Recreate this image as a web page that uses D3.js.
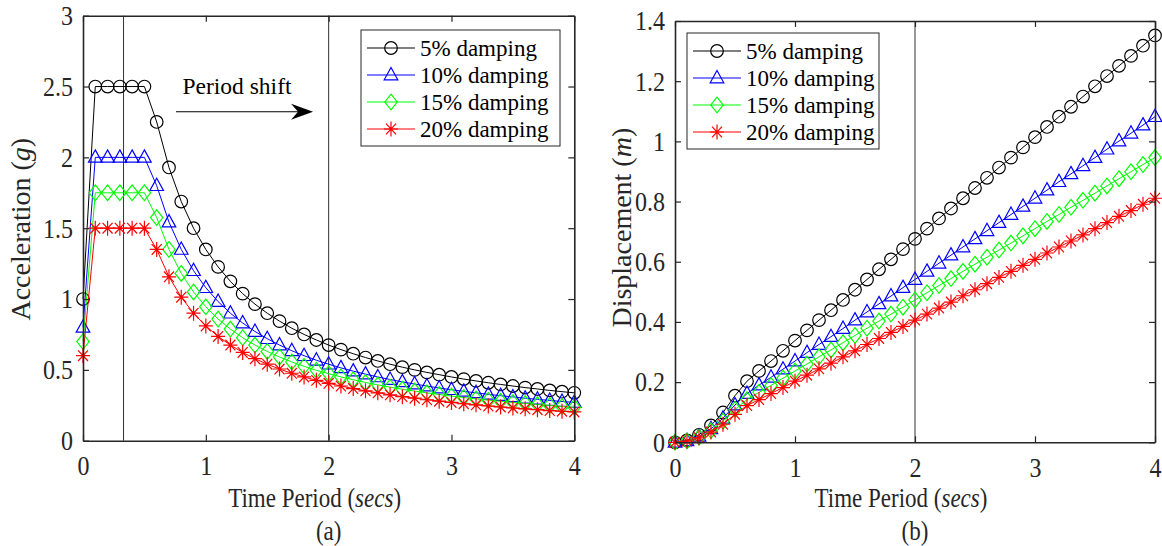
<!DOCTYPE html>
<html>
<head>
<meta charset="utf-8">
<script src="https://cdn.jsdelivr.net/npm/d3@7/dist/d3.min.js"></script>
<style>
  body { margin: 0; background: #fff; }
  svg { display: block; font-family: "Liberation Serif", "Times New Roman", serif; }
  .axis path, .axis line { stroke: #262626; }
  .axis text { fill: #262626; font-size: 24px; font-family: "Liberation Serif", serif; }
</style>
</head>
<body>
<svg id="chart" width="1162" height="546"></svg>
<script>
// time periods (s)
var periods = [0,0.1,0.2,0.3,0.4,0.5,0.6,0.7,0.8,0.9,1.0,1.1,1.2,1.3,1.4,1.5,1.6,1.7,1.8,1.9,2.0,
               2.1,2.2,2.3,2.4,2.5,2.6,2.7,2.8,2.9,3.0,3.1,3.2,3.3,3.4,3.5,3.6,3.7,3.8,3.9,4.0];

var seriesNames = ["5% damping", "10% damping", "15% damping", "20% damping"];

// spectral acceleration (g)
var acc5  = [1.0,2.5,2.5,2.5,2.5,2.5,2.25,1.929,1.688,1.5,1.35,1.227,1.125,1.038,0.964,0.9,0.844,0.794,0.75,0.711,0.675,
             0.643,0.614,0.587,0.563,0.54,0.519,0.5,0.482,0.466,0.45,0.435,0.422,0.409,0.397,0.386,0.375,0.365,0.355,0.346,0.338];
var acc10 = [0.8,2,2,2,2,2,1.8,1.543,1.35,1.2,1.08,0.982,0.9,0.831,0.771,0.72,0.675,0.635,0.6,0.568,0.54,
             0.514,0.491,0.47,0.45,0.432,0.415,0.4,0.386,0.372,0.36,0.348,0.338,0.327,0.318,0.309,0.3,0.292,0.284,0.277,0.27];
var acc15 = [0.7,1.75,1.75,1.75,1.75,1.75,1.575,1.35,1.181,1.05,0.945,0.859,0.788,0.727,0.675,0.63,0.591,0.556,0.525,0.497,0.473,
             0.45,0.43,0.411,0.394,0.378,0.363,0.35,0.338,0.326,0.315,0.305,0.295,0.286,0.278,0.27,0.263,0.255,0.249,0.242,0.236];
var acc20 = [0.6,1.5,1.5,1.5,1.5,1.5,1.35,1.157,1.013,0.9,0.81,0.736,0.675,0.623,0.579,0.54,0.506,0.476,0.45,0.426,0.405,
             0.386,0.368,0.352,0.338,0.324,0.311,0.3,0.289,0.279,0.27,0.261,0.253,0.245,0.238,0.231,0.225,0.219,0.213,0.208,0.203];

// spectral displacement (m)
var disp5  = [0,0.006,0.025,0.056,0.099,0.155,0.203,0.237,0.270,0.304,0.338,0.372,0.406,0.439,0.473,0.507,0.541,0.575,0.608,0.642,0.676,
              0.710,0.744,0.777,0.811,0.845,0.879,0.913,0.946,0.980,1.014,1.048,1.082,1.115,1.149,1.183,1.217,1.251,1.284,1.318,1.352];
var disp10 = [0,0.005,0.020,0.045,0.080,0.124,0.162,0.190,0.216,0.243,0.270,0.298,0.325,0.351,0.378,0.406,0.433,0.460,0.486,0.514,0.541,
              0.568,0.595,0.622,0.649,0.676,0.703,0.730,0.757,0.784,0.811,0.838,0.866,0.892,0.919,0.946,0.974,1.001,1.027,1.054,1.082];
var disp15 = [0,0.004,0.017,0.039,0.070,0.109,0.142,0.166,0.189,0.213,0.237,0.260,0.284,0.307,0.331,0.355,0.379,0.403,0.426,0.449,0.473,
              0.497,0.521,0.544,0.568,0.592,0.615,0.639,0.662,0.686,0.710,0.734,0.757,0.781,0.804,0.828,0.852,0.876,0.899,0.923,0.946];
var disp20 = [0,0.004,0.015,0.034,0.060,0.093,0.122,0.142,0.162,0.182,0.203,0.223,0.244,0.263,0.284,0.304,0.325,0.345,0.365,0.385,0.406,
              0.426,0.446,0.466,0.487,0.507,0.527,0.548,0.568,0.588,0.608,0.629,0.649,0.669,0.689,0.710,0.730,0.751,0.770,0.791,0.811];

var xTicks = [0, 1, 2, 3, 4];
var accTicks = [0, 0.5, 1, 1.5, 2, 2.5, 3];
var dispTicks = [0, 0.2, 0.4, 0.6, 0.8, 1, 1.2, 1.4];
var accMarkerLines = [0.33, 2];
var dispMarkerLines = [2];

var colors = ["#000000", "#0000ff", "#00ff00", "#ff0000"];
var markers = ["circle", "triangle", "diamond", "star"];

var svg = d3.select("#chart");
var stretch = 1.15; // axis texts in the figure are drawn a bit taller than wide

function drawMarker(g, type, color) {
    if (type == "circle") {
        g.append("circle").attr("r", 6.3);
    } else if (type == "triangle") {
        g.append("path").attr("d", "M0,-7.5L6.8,4.8L-6.8,4.8Z");
    } else if (type == "diamond") {
        g.append("path").attr("d", "M0,-7.8L6.2,0L0,7.8L-6.2,0Z");
    } else {
        g.append("path").attr("d", "M-7,0L7,0M0,-7.5L0,7.5M-5,-5.3L5,5.3M-5,5.3L5,-5.3");
    }
    g.selectAll("*").attr("fill", "none").attr("stroke", color).attr("stroke-width", 1.2);
}

function drawPanel(opts) {
    var x = d3.scaleLinear().domain([0, 4]).range(opts.xr);
    var y = d3.scaleLinear().domain(opts.yd).range(opts.yr);
    var g = svg.append("g");
    var fmt = function(d) { return d3.format("~g")(d); };

    // reference lines
    g.selectAll(".vline").data(opts.vlines).enter().append("line")
        .attr("x1", function(d) { return x(d); }).attr("x2", function(d) { return x(d); })
        .attr("y1", y(opts.yd[0])).attr("y2", y(opts.yd[1]))
        .attr("stroke", "#333").attr("stroke-width", 1);

    // series
    var line = d3.line().x(function(d, i) { return x(periods[i]); }).y(function(d) { return y(d); });
    opts.series.forEach(function(vals, k) {
        g.append("path").datum(vals).attr("d", line)
            .attr("fill", "none").attr("stroke", colors[k]).attr("stroke-width", 1);
        vals.forEach(function(v, i) {
            var m = g.append("g").attr("transform", "translate(" + x(periods[i]) + "," + y(v) + ")");
            drawMarker(m, markers[k], colors[k]);
        });
    });

    // axes, ticks inside on all four sides
    var bx = g.append("g").attr("class", "axis").attr("transform", "translate(0," + opts.yr[0] + ")")
        .call(d3.axisBottom(x).tickValues(xTicks).tickSizeInner(-6).tickSizeOuter(0).tickPadding(15).tickFormat(fmt));
    bx.selectAll(".tick text").each(function() {
        var t = d3.select(this), ty = +t.attr("y");
        t.attr("y", 0).attr("transform", "translate(0," + ty + ") scale(1," + stretch + ")");
    });
    g.append("g").attr("class", "axis").attr("transform", "translate(0," + opts.yr[1] + ")")
        .call(d3.axisTop(x).tickValues(xTicks).tickSizeInner(-6).tickSizeOuter(0).tickFormat(""));
    var ly = g.append("g").attr("class", "axis").attr("transform", "translate(" + opts.xr[0] + ",0)")
        .call(d3.axisLeft(y).tickValues(opts.yTicks).tickSizeInner(-6).tickSizeOuter(0).tickPadding(10).tickFormat(fmt));
    ly.selectAll(".tick text").attr("transform", "scale(1," + stretch + ")");
    g.append("g").attr("class", "axis").attr("transform", "translate(" + opts.xr[1] + ",0)")
        .call(d3.axisRight(y).tickValues(opts.yTicks).tickSizeInner(-6).tickSizeOuter(0).tickFormat(""));
    g.selectAll(".axis path").attr("stroke-width", 1.6);
    g.selectAll(".axis line").attr("stroke-width", 1.2);

    // axis titles
    var cx = (opts.xr[0] + opts.xr[1]) / 2;
    var xt = g.append("text").attr("transform", "translate(" + (cx - 14) + ",506.5) scale(1," + 1.2 + ")")
        .attr("text-anchor", "middle").attr("font-size", 23).attr("fill", "#262626");
    xt.append("tspan").text("Time Period (");
    xt.append("tspan").attr("font-style", "italic").text("secs");
    xt.append("tspan").text(")");
    g.append("text").attr("transform", "translate(" + cx + ",540) scale(1," + 1.2 + ")")
        .attr("text-anchor", "middle").attr("font-size", 23).attr("fill", "#262626").text(opts.sub);

    var cy = (opts.yr[0] + opts.yr[1]) / 2 + opts.ylabShift;
    var yt = g.append("text").attr("transform", "translate(" + opts.ylabX + "," + cy + ") rotate(-90)")
        .attr("text-anchor", "middle").attr("font-size", 28).attr("fill", "#262626");
    yt.append("tspan").text(opts.ylab + " (");
    yt.append("tspan").attr("font-style", "italic").text(opts.unit);
    yt.append("tspan").text(")");

    // legend
    var lg = g.append("g").attr("transform", "translate(" + opts.legend[0] + "," + opts.legend[1] + ")");
    lg.append("rect").attr("width", opts.legendW).attr("height", 116)
        .attr("fill", "#fff").attr("stroke", "#262626").attr("stroke-width", 1);
    seriesNames.forEach(function(name, k) {
        var row = lg.append("g").attr("transform", "translate(0," + (18 + k * 27) + ")");
        row.append("line").attr("x1", 6).attr("x2", 54).attr("stroke", colors[k]).attr("stroke-width", 1);
        var m = row.append("g").attr("transform", "translate(30,0)");
        drawMarker(m, markers[k], colors[k]);
        row.append("text").attr("x", 59).attr("dy", "0.35em").attr("font-size", 23)
            .attr("fill", "#000").text(name);
    });

    return { x: x, y: y, g: g };
}

var left = drawPanel({
    xr: [83, 574.3], yd: [0, 3], yr: [440.7, 15.7], yTicks: accTicks,
    series: [acc5, acc10, acc15, acc20], vlines: accMarkerLines,
    ylab: "Acceleration", unit: "g", ylabX: 30, ylabShift: 1, sub: "(a)",
    legend: [361, 30], legendW: 199
});

var right = drawPanel({
    xr: [675, 1155], yd: [0, 1.4], yr: [442.3, 21], yTicks: dispTicks,
    series: [disp5, disp10, disp15, disp20], vlines: dispMarkerLines,
    ylab: "Displacement", unit: "m", ylabX: 631, ylabShift: -4, sub: "(b)",
    legend: [687, 33], legendW: 192
});

// period shift annotation
var ax0 = left.x(0.757), ax1 = left.x(1.873), ay = left.y(2.322);
left.g.append("line").attr("x1", ax0).attr("x2", ax1 - 12).attr("y1", ay).attr("y2", ay)
    .attr("stroke", "#000").attr("stroke-width", 1);
left.g.append("path").attr("transform", "translate(" + ax1 + "," + ay + ")")
    .attr("d", "M0,0L-22,-8L-15,0L-22,8Z").attr("fill", "#000");
left.g.append("text").attr("x", left.x(0.81)).attr("y", left.y(2.447))
    .attr("font-size", 23.5).attr("fill", "#000").text("Period shift");
</script>
</body>
</html>
